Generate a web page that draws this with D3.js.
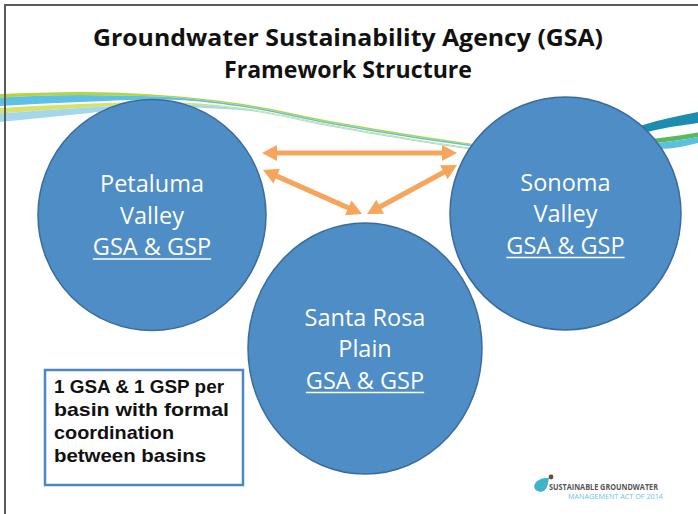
<!DOCTYPE html>
<html>
<head>
<meta charset="utf-8">
<script src="https://cdn.jsdelivr.net/npm/d3@7"></script>
<style>
    body { margin: 0; background: #fff; }
    svg { display: block; }
    text { font-family: "Open Sans", "Noto Sans", sans-serif; }
    text.note { font-family: "Liberation Sans", Arial, sans-serif; }
</style>
</head>
<body>
<script>
// slide text
const titleLines = ["Groundwater Sustainability Agency (GSA)", "Framework Structure"];
const basinNames = ["Petaluma Valley", "Sonoma Valley", "Santa Rosa Plain"];
const basinLines = [
    ["Petaluma", "Valley", "GSA & GSP"],
    ["Sonoma", "Valley", "GSA & GSP"],
    ["Santa Rosa", "Plain", "GSA & GSP"]
];
// coordination between basins (index pairs)
const links = [[0, 1], [0, 2], [1, 2]];
const noteLines = ["1 GSA & 1 GSP per", "basin with formal", "coordination", "between basins"];
const logoLines = ["SUSTAINABLE GROUNDWATER", "MANAGEMENT ACT OF 2014"];

function renderSlide() {

    let w = 698,
        h = 514;

    let svg = d3.select("body").append("svg")
        .attr("width", w)
        .attr("height", h);

    // layout of the diagram
    let nodes = [
        {cx: 152, cy: 215, rx: 114, ry: 115.5},
        {cx: 565.5, cy: 213.5, rx: 115.5, ry: 116.5},
        {cx: 365, cy: 348.5, rx: 117, ry: 125.5}
    ];
    let arrowEnds = {
        "0-1": [[262, 153], [457, 153]],
        "0-2": [[263, 170], [362, 214]],
        "1-2": [[457, 165], [367, 214]]
    };
    let titleWidths = [510, 248];
    let noteWidths = [170, 175, 120, 152];

    // decorative swoosh bands: [x, yTop, yBottom]
    let bands = [
        {c: "#b7d43a", p: [[0, 94, 97.5], [80, 92, 95], [160, 95, 96.5], [240, 103.5, 105], [330, 121, 122.5], [420, 136, 137.5], [480, 145, 146]]},
        {c: "#5ec0e2", p: [[0, 97.5, 106], [80, 95, 102], [160, 96.5, 99.5], [240, 105, 106.5], [330, 122.5, 124], [420, 137.5, 139], [480, 146, 147.5]]},
        {c: "#d6e26a", p: [[0, 108, 113.5], [80, 104, 108], [160, 102, 104], [240, 107.5, 108.5], [330, 124.5, 125.5], [420, 140, 141], [480, 149, 150]]},
        {c: "#a3d8ec", p: [[0, 113.5, 122], [80, 108, 114], [160, 104, 107], [240, 108.5, 110], [330, 125.5, 126.5], [420, 141, 142], [480, 150, 151]]},
        {c: "#1a8db0", p: [[560, 141, 146], [620, 133, 140], [643, 125, 133], [698, 112, 123]]},
        {c: "#5cb85c", p: [[560, 147, 149], [620, 141, 144], [660, 138, 142.5], [698, 132.5, 137]]},
        {c: "#5bc0de", p: [[560, 149, 151], [620, 144, 148], [660, 142.5, 149], [698, 137, 143]]}
    ];

    let area = d3.area()
        .x(function (d) { return d[0]; })
        .y0(function (d) { return d[1]; })
        .y1(function (d) { return d[2]; })
        .curve(d3.curveMonotoneX);

    svg.append("g").selectAll("path")
        .data(bands)
        .enter().append("path")
        .attr("d", function (d) { return area(d.p); })
        .attr("fill", function (d) { return d.c; });

    // slide frame
    svg.append("path")
        .attr("d", "M5," + h + "V5H" + w)
        .attr("fill", "none")
        .attr("stroke", "#5a5a5a")
        .attr("stroke-width", 2);

    // title
    svg.append("g").selectAll("text")
        .data(titleLines)
        .enter().append("text")
        .attr("x", 348)
        .attr("y", function (d, i) { return 46 + i * 31.5; })
        .attr("text-anchor", "middle")
        .attr("font-weight", "bold")
        .attr("font-size", 24)
        .attr("fill", "#111")
        .text(function (d) { return d; })
        .each(function (d, i) { fitWidth(this, titleWidths[i], true); });

    // arrows
    let arrowG = svg.append("g");
    links.forEach(function (l) {
        let e = arrowEnds[l[0] + "-" + l[1]];
        arrowG.append("path")
            .attr("class", "link")
            .attr("d", doubleArrow(e[0][0], e[0][1], e[1][0], e[1][1]))
            .attr("fill", "#f5a65c");
    });

    // basins
    let basin = svg.append("g").selectAll("g")
        .data(basinNames)
        .enter().append("g")
        .attr("class", "basin");

    basin.append("ellipse")
        .attr("cx", function (d, i) { return nodes[i].cx; })
        .attr("cy", function (d, i) { return nodes[i].cy; })
        .attr("rx", function (d, i) { return nodes[i].rx; })
        .attr("ry", function (d, i) { return nodes[i].ry; })
        .attr("fill", "#4e8dc5")
        .attr("stroke", "#3a6c9c")
        .attr("stroke-width", 1.5);

    basin.each(function (name, i) {
        let g = d3.select(this);
        let n = nodes[i];
        let top = n.cy - 23;
        basinLines[i].forEach(function (line, j) {
            let t = g.append("text")
                .attr("x", n.cx)
                .attr("y", top + j * 31.5)
                .attr("text-anchor", "middle")
                .attr("font-size", 23.5)
                .attr("fill", "#fff")
                .text(line);
            if (j === 2) {
                let len = t.node().getComputedTextLength();
                g.append("line")
                    .attr("x1", n.cx - len / 2)
                    .attr("x2", n.cx + len / 2)
                    .attr("y1", top + j * 31.5 + 4)
                    .attr("y2", top + j * 31.5 + 4)
                    .attr("stroke", "#fff")
                    .attr("stroke-width", 1.5);
            }
        });
    });

    // note box
    svg.append("rect")
        .attr("x", 45)
        .attr("y", 370)
        .attr("width", 198)
        .attr("height", 115)
        .attr("fill", "#fff")
        .attr("stroke", "#4a88c8")
        .attr("stroke-width", 2.5);

    svg.append("g").selectAll("text")
        .data(noteLines)
        .enter().append("text")
        .attr("class", "note")
        .attr("x", 54)
        .attr("y", function (d, i) { return 393 + i * 23; })
        .attr("font-weight", "bold")
        .attr("font-size", 18.5)
        .attr("fill", "#111")
        .text(function (d) { return d; })
        .each(function (d, i) { fitWidth(this, noteWidths[i], true); });

    // logo
    let logo = svg.append("g");
    logo.append("path")
        .attr("d", "M549,478 C546,478 542,478 539,480 C535,482 533,486 535,489 C537,492 542,493 545,490 C548,487 548,482 549,478 Z")
        .attr("fill", "#3fb3c9");
    logo.append("circle")
        .attr("cx", 551)
        .attr("cy", 477)
        .attr("r", 2.4)
        .attr("fill", "#6b4b3c");
    logo.append("text")
        .attr("x", 549)
        .attr("y", 490)
        .attr("font-size", 8.5)
        .attr("font-weight", "bold")
        .attr("fill", "#555")
        .text(logoLines[0])
        .each(function () { fitWidth(this, 109, true); });
    logo.append("text")
        .attr("x", 568)
        .attr("y", 498.5)
        .attr("font-size", 7.5)
        .attr("fill", "#6cc4e0")
        .text(logoLines[1])
        .each(function () { fitWidth(this, 95, true); });
}


function fitWidth(el, maxW, force) {
    let len = el.getComputedTextLength();
    if (len > maxW || force) {
        d3.select(el)
            .attr("textLength", maxW)
            .attr("lengthAdjust", "spacingAndGlyphs");
    }
}

// double-headed arrow outline from (x1,y1) to (x2,y2)
function doubleArrow(x1, y1, x2, y2) {
    let dx = x2 - x1,
        dy = y2 - y1,
        len = Math.sqrt(dx * dx + dy * dy);
    let ux = dx / len, uy = dy / len;
    let nx = -uy, ny = ux;
    let head = 15, hw = 8, sw = 2.6;
    let pts = [
        [0, 0], [head, hw], [head, sw], [len - head, sw], [len - head, hw],
        [len, 0], [len - head, -hw], [len - head, -sw], [head, -sw], [head, -hw]
    ];
    return "M" + pts.map(function (p) {
        return [x1 + ux * p[0] + nx * p[1], y1 + uy * p[0] + ny * p[1]].join(",");
    }).join("L") + "Z";
}


renderSlide();
</script>
</body>
</html>
